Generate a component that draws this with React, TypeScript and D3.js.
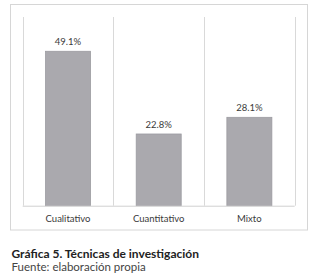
import React from "react";
import * as d3 from "d3";

const categories = ["Cualitativo", "Cuantitativo", "Mixto"];
const values = [49.1, 22.8, 28.1];
const valueLabels = ["49.1%", "22.8%", "28.1%"];
const title = "Gráfica 5. Técnicas de investigación";
const source = "Fuente: elaboración propia";

export default function App() {
  const W = 320, H = 279;
  const left = 22.7, right = 294.7, top = 17, bottom = 205.7;
  const x = d3.scaleBand<string>().domain(categories).range([left, right]).paddingInner(0).paddingOuter(0);
  const y = d3.scaleLinear().domain([0, 60]).range([bottom, top]);
  const bw = 45;
  const font = "Lato, 'Open Sans', sans-serif";
  const gridX = [...categories.map((c) => x(c) as number), right];
  return (
    <svg width={W} height={H} style={{ position: "absolute", left: 0, top: 0, background: "#fff" }}>
      <rect x={10.5} y={4.5} width={297} height={225.5} fill="#fff" stroke="#d6d6d6" strokeWidth={1} />
      {gridX.map((gx, i) => (
        <line key={i} x1={Math.round(gx) + 0.5} x2={Math.round(gx) + 0.5} y1={top} y2={bottom} stroke="#d9d9d9" strokeWidth={1} />
      ))}
      {categories.map((c, i) => {
        const cx = (x(c) as number) + x.bandwidth() / 2;
        return (
          <g key={c}>
            <rect x={cx - bw / 2} y={y(values[i])} width={bw} height={bottom - y(values[i])} fill="#aaa9ae" stroke="#9c9ba0" strokeWidth={0.8} />
            <text x={cx} y={y(values[i]) - 6} textAnchor="middle" fontFamily={font} fontSize={9.5} fill="#3a3a3a">{valueLabels[i]}</text>
            <text x={cx} y={bottom + 16.5} textAnchor="middle" fontFamily={font} fontSize={9.5} fill="#3a3a3a">{c}</text>
          </g>
        );
      })}
      <line x1={left} x2={right} y1={bottom + 0.5} y2={bottom + 0.5} stroke="#d0d0d0" strokeWidth={1} />
      <text x={11.5} y={257.5} fontFamily={font} fontSize={12} fontWeight={700} fill="#222">{title}</text>
      <text x={11.5} y={271} fontFamily={font} fontSize={11.5} fill="#444">{source}</text>
    </svg>
  );
}
